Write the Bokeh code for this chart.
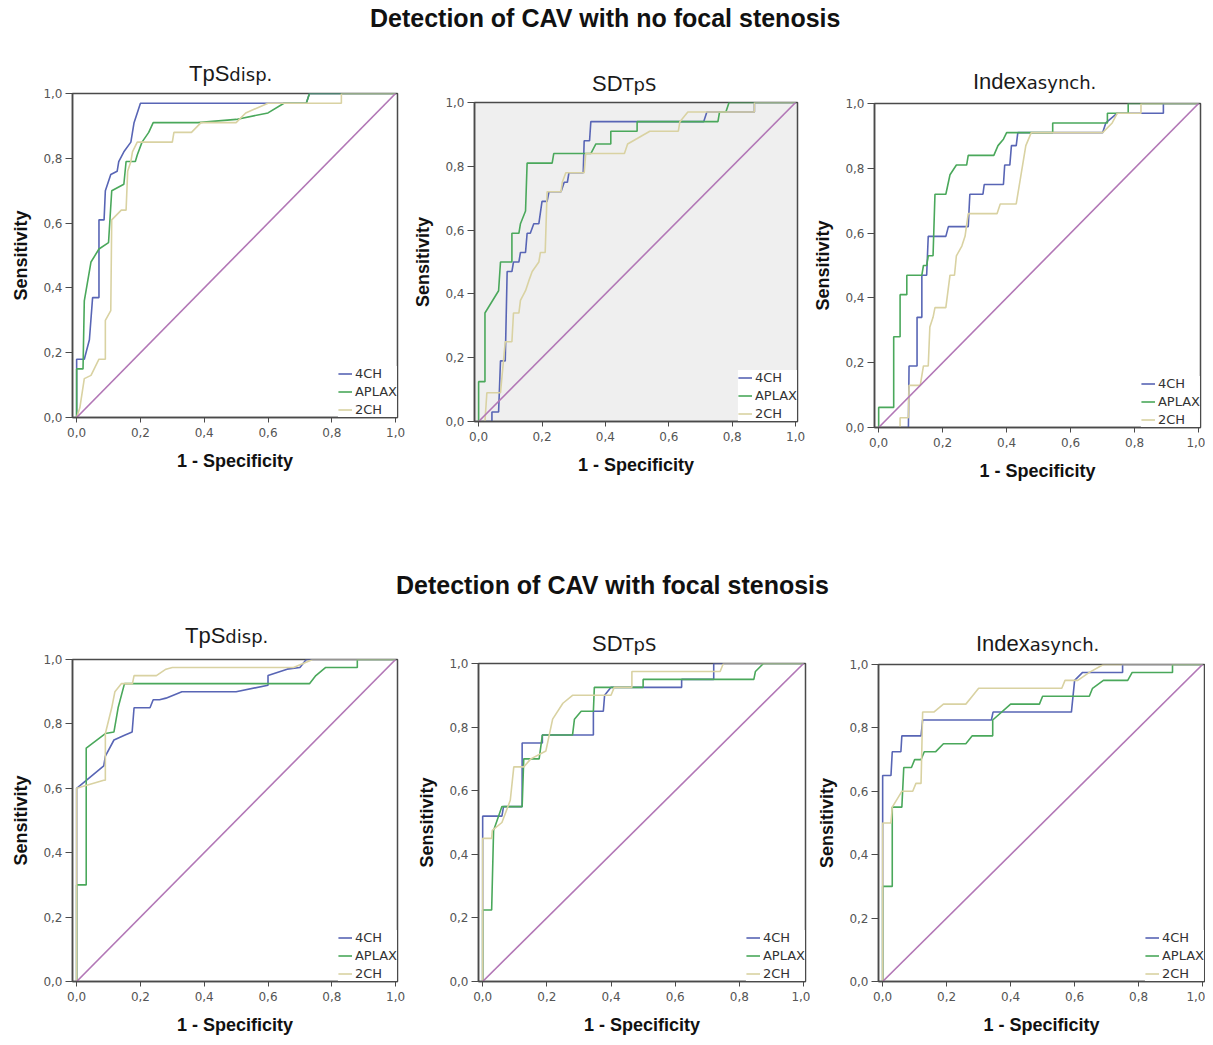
from bokeh.plotting import figure
from bokeh.models import Div, FixedTicker, CustomJSTickFormatter, Range1d
from bokeh.layouts import column, row
from bokeh.embed import file_html
from bokeh.resources import INLINE

# ---------------- data ----------------
HEADINGS = ["Detection of CAV with no focal stenosis", "Detection of CAV with focal stenosis"]
TITLES_MAIN = ["TpS", "SD", "Index", "TpS", "SD", "Index"]
TITLES_SUB = ["disp.", "TpS", "asynch.", "disp.", "TpS", "asynch."]
SERIES = ["4CH", "APLAX", "2CH"]
TICKS = [0.0, 0.2, 0.4, 0.6, 0.8, 1.0]
DIAG_X = [0.0, 1.0]
DIAG_Y = [0.0, 1.0]

# Panel 1: TpS disp., no focal stenosis
P1_4CH_X = [0, 0, 0.024, 0.04, 0.05, 0.07, 0.07, 0.086, 0.09, 0.107, 0.127, 0.132, 0.148, 0.17, 0.175, 0.18, 0.19, 0.20, 0.72, 0.73, 1.0]
P1_4CH_Y = [0, 0.18, 0.18, 0.24, 0.37, 0.37, 0.61, 0.61, 0.70, 0.75, 0.76, 0.79, 0.82, 0.85, 0.88, 0.91, 0.94, 0.97, 0.97, 1.0, 1.0]
P1_APLAX_X = [0, 0, 0.02, 0.024, 0.045, 0.07, 0.10, 0.11, 0.148, 0.155, 0.184, 0.19, 0.205, 0.226, 0.24, 0.38, 0.50, 0.60, 0.65, 0.72, 0.73, 1.0]
P1_APLAX_Y = [0, 0.15, 0.15, 0.36, 0.48, 0.52, 0.54, 0.70, 0.72, 0.79, 0.79, 0.81, 0.85, 0.88, 0.91, 0.91, 0.92, 0.94, 0.97, 0.97, 1.0, 1.0]
P1_2CH_X = [0, 0.01, 0.024, 0.045, 0.055, 0.07, 0.09, 0.09, 0.107, 0.11, 0.14, 0.155, 0.16, 0.17, 0.175, 0.19, 0.30, 0.305, 0.36, 0.39, 0.50, 0.53, 0.60, 0.83, 0.83, 1.0]
P1_2CH_Y = [0, 0.03, 0.12, 0.13, 0.15, 0.18, 0.18, 0.30, 0.33, 0.61, 0.64, 0.64, 0.76, 0.79, 0.82, 0.85, 0.85, 0.88, 0.88, 0.91, 0.91, 0.94, 0.97, 0.97, 1.0, 1.0]

# Panel 2: SD TpS, no focal stenosis
P2_4CH_X = [0, 0.042, 0.042, 0.063, 0.069, 0.084, 0.09, 0.105, 0.11, 0.127, 0.132, 0.148, 0.153, 0.163, 0.174, 0.19, 0.20, 0.216, 0.222, 0.26, 0.27, 0.28, 0.285, 0.33, 0.333, 0.35, 0.354, 0.71, 0.72, 0.87, 0.87, 1.0]
P2_4CH_Y = [0, 0, 0.03, 0.03, 0.19, 0.19, 0.47, 0.47, 0.50, 0.50, 0.53, 0.53, 0.59, 0.59, 0.62, 0.62, 0.69, 0.69, 0.72, 0.72, 0.75, 0.75, 0.78, 0.78, 0.88, 0.88, 0.94, 0.94, 0.97, 0.97, 1.0, 1.0]
P2_APLAX_X = [0, 0, 0.02, 0.02, 0.063, 0.069, 0.105, 0.105, 0.127, 0.132, 0.148, 0.153, 0.232, 0.237, 0.354, 0.37, 0.417, 0.417, 0.50, 0.50, 0.755, 0.76, 0.78, 0.79, 1.0]
P2_APLAX_Y = [0, 0.125, 0.125, 0.34, 0.41, 0.50, 0.50, 0.59, 0.59, 0.62, 0.66, 0.81, 0.81, 0.84, 0.84, 0.87, 0.87, 0.91, 0.91, 0.94, 0.94, 0.97, 0.97, 1.0, 1.0]
P2_2CH_X = [0, 0.02, 0.026, 0.069, 0.084, 0.105, 0.11, 0.127, 0.132, 0.148, 0.158, 0.169, 0.19, 0.195, 0.21, 0.216, 0.26, 0.264, 0.275, 0.333, 0.338, 0.46, 0.47, 0.54, 0.63, 0.635, 0.66, 0.87, 0.87, 1.0]
P2_2CH_Y = [0, 0, 0.09, 0.09, 0.25, 0.25, 0.34, 0.34, 0.38, 0.41, 0.44, 0.47, 0.50, 0.53, 0.53, 0.72, 0.72, 0.75, 0.78, 0.78, 0.84, 0.84, 0.87, 0.91, 0.91, 0.94, 0.97, 0.97, 1.0, 1.0]

# Panel 3: Index asynch., no focal stenosis
P3_4CH_X = [0, 0.093, 0.095, 0.12, 0.12, 0.135, 0.135, 0.15, 0.155, 0.21, 0.218, 0.28, 0.285, 0.326, 0.33, 0.39, 0.394, 0.41, 0.415, 0.43, 0.435, 0.70, 0.71, 0.746, 0.89, 0.89, 1.0]
P3_4CH_Y = [0, 0, 0.19, 0.19, 0.34, 0.34, 0.47, 0.47, 0.59, 0.59, 0.62, 0.62, 0.72, 0.72, 0.75, 0.75, 0.81, 0.81, 0.87, 0.87, 0.91, 0.91, 0.94, 0.97, 0.97, 1.0, 1.0]
P3_APLAX_X = [0, 0, 0.047, 0.047, 0.067, 0.067, 0.088, 0.088, 0.135, 0.14, 0.15, 0.155, 0.17, 0.176, 0.21, 0.223, 0.243, 0.275, 0.28, 0.36, 0.373, 0.39, 0.40, 0.544, 0.544, 0.715, 0.715, 0.78, 0.78, 1.0]
P3_APLAX_Y = [0, 0.062, 0.062, 0.28, 0.28, 0.41, 0.41, 0.47, 0.47, 0.50, 0.50, 0.53, 0.53, 0.72, 0.72, 0.78, 0.81, 0.81, 0.84, 0.84, 0.87, 0.89, 0.91, 0.91, 0.94, 0.94, 0.97, 0.97, 1.0, 1.0]
P3_2CH_X = [0, 0.067, 0.067, 0.093, 0.095, 0.13, 0.135, 0.14, 0.155, 0.16, 0.17, 0.176, 0.21, 0.223, 0.237, 0.243, 0.26, 0.27, 0.28, 0.37, 0.38, 0.43, 0.435, 0.46, 0.477, 0.70, 0.73, 0.746, 0.82, 0.82, 1.0]
P3_2CH_Y = [0, 0, 0.03, 0.03, 0.13, 0.13, 0.16, 0.19, 0.19, 0.31, 0.34, 0.37, 0.37, 0.47, 0.47, 0.53, 0.56, 0.59, 0.66, 0.66, 0.69, 0.69, 0.72, 0.87, 0.91, 0.91, 0.94, 0.97, 0.97, 1.0, 1.0]

# Panel 4: TpS disp., focal stenosis
P4_4CH_X = [0, 0, 0.085, 0.09, 0.117, 0.15, 0.174, 0.18, 0.23, 0.24, 0.26, 0.28, 0.33, 0.50, 0.60, 0.60, 0.66, 0.70, 0.72, 1.0]
P4_4CH_Y = [0, 0.60, 0.67, 0.70, 0.75, 0.765, 0.775, 0.85, 0.85, 0.875, 0.875, 0.88, 0.90, 0.90, 0.92, 0.95, 0.97, 0.975, 1.0, 1.0]
P4_APLAX_X = [0, 0, 0.03, 0.03, 0.09, 0.117, 0.13, 0.15, 0.73, 0.75, 0.78, 0.88, 0.88, 1.0]
P4_APLAX_Y = [0, 0.30, 0.30, 0.725, 0.77, 0.775, 0.85, 0.925, 0.925, 0.95, 0.975, 0.975, 1.0, 1.0]
P4_2CH_X = [0, 0, 0.085, 0.09, 0.09, 0.11, 0.12, 0.14, 0.175, 0.18, 0.25, 0.28, 0.30, 0.68, 0.74, 1.0]
P4_2CH_Y = [0, 0.60, 0.625, 0.625, 0.77, 0.85, 0.90, 0.925, 0.925, 0.95, 0.95, 0.97, 0.975, 0.975, 1.0, 1.0]

# Panel 5: SD TpS, focal stenosis
P5_4CH_X = [0, 0, 0.06, 0.065, 0.123, 0.123, 0.186, 0.186, 0.345, 0.345, 0.376, 0.38, 0.40, 0.62, 0.62, 0.72, 0.72, 1.0]
P5_4CH_Y = [0, 0.52, 0.52, 0.55, 0.55, 0.75, 0.75, 0.775, 0.775, 0.85, 0.85, 0.90, 0.925, 0.925, 0.95, 0.95, 1.0, 1.0]
P5_APLAX_X = [0, 0, 0.028, 0.034, 0.06, 0.123, 0.128, 0.176, 0.186, 0.28, 0.286, 0.307, 0.345, 0.348, 0.50, 0.50, 0.845, 0.85, 0.875, 1.0]
P5_APLAX_Y = [0, 0.225, 0.225, 0.475, 0.55, 0.55, 0.70, 0.70, 0.775, 0.775, 0.825, 0.85, 0.85, 0.925, 0.925, 0.95, 0.95, 0.975, 1.0, 1.0]
P5_2CH_X = [0, 0, 0.028, 0.03, 0.06, 0.086, 0.097, 0.128, 0.15, 0.197, 0.218, 0.25, 0.28, 0.40, 0.41, 0.465, 0.465, 0.74, 0.75, 1.0]
P5_2CH_Y = [0, 0.45, 0.45, 0.475, 0.50, 0.57, 0.675, 0.675, 0.70, 0.725, 0.825, 0.875, 0.90, 0.90, 0.925, 0.925, 0.975, 0.975, 1.0, 1.0]

# Panel 6: Index asynch., focal stenosis
P6_4CH_X = [0, 0, 0.026, 0.03, 0.057, 0.06, 0.12, 0.125, 0.34, 0.345, 0.59, 0.60, 0.625, 0.75, 0.75, 1.0]
P6_4CH_Y = [0, 0.65, 0.65, 0.725, 0.725, 0.775, 0.775, 0.825, 0.825, 0.85, 0.85, 0.95, 0.975, 0.975, 1.0, 1.0]
P6_APLAX_X = [0, 0, 0.03, 0.03, 0.06, 0.066, 0.09, 0.10, 0.12, 0.13, 0.166, 0.19, 0.26, 0.28, 0.344, 0.344, 0.40, 0.49, 0.50, 0.646, 0.656, 0.69, 0.766, 0.78, 0.906, 0.906, 1.0]
P6_APLAX_Y = [0, 0.30, 0.30, 0.55, 0.55, 0.675, 0.675, 0.70, 0.70, 0.725, 0.725, 0.75, 0.75, 0.775, 0.775, 0.825, 0.875, 0.875, 0.90, 0.90, 0.925, 0.95, 0.95, 0.975, 0.975, 1.0, 1.0]
P6_2CH_X = [0, 0, 0.026, 0.03, 0.06, 0.094, 0.104, 0.12, 0.125, 0.16, 0.19, 0.26, 0.28, 0.30, 0.56, 0.57, 0.61, 0.646, 0.69, 1.0]
P6_2CH_Y = [0, 0.50, 0.50, 0.55, 0.60, 0.60, 0.625, 0.625, 0.85, 0.85, 0.875, 0.875, 0.90, 0.925, 0.925, 0.95, 0.95, 0.975, 1.0, 1.0]

PANEL_DATA = [
    [(P1_4CH_X, P1_4CH_Y), (P1_APLAX_X, P1_APLAX_Y), (P1_2CH_X, P1_2CH_Y)],
    [(P2_4CH_X, P2_4CH_Y), (P2_APLAX_X, P2_APLAX_Y), (P2_2CH_X, P2_2CH_Y)],
    [(P3_4CH_X, P3_4CH_Y), (P3_APLAX_X, P3_APLAX_Y), (P3_2CH_X, P3_2CH_Y)],
    [(P4_4CH_X, P4_4CH_Y), (P4_APLAX_X, P4_APLAX_Y), (P4_2CH_X, P4_2CH_Y)],
    [(P5_4CH_X, P5_4CH_Y), (P5_APLAX_X, P5_APLAX_Y), (P5_2CH_X, P5_2CH_Y)],
    [(P6_4CH_X, P6_4CH_Y), (P6_APLAX_X, P6_APLAX_Y), (P6_2CH_X, P6_2CH_Y)],
]

# ---------------- styling / layout ----------------
COLORS = ["#5865b5", "#4aa85b", "#d9d2a2"]
DIAG_COLOR = "#b277b6"
FRAME_COLOR = "#4a4a4a"
XR0, XR1 = -0.013, 1.006

# figure: (width, height, border l, r, t, b, background)
FIG_LAYOUT = [
    (402, 403, 62, 13, 6, 73, "white"),
    (400, 393, 63, 13, 5, 69, "#efefef"),
    (395, 394, 62, 5, 7, 63, "white"),
    (402, 387, 60, 13, 9, 55, "white"),
    (400, 379, 68, 5, 5, 54, "white"),
    (395, 379, 68, 1, 6, 52, "white"),
]
# title strip above each figure: (height, left of main text, baseline y)
TITLE_LAYOUT = [
    (39, 181, 34),
    (49, 182, 44),
    (48, 163, 42),
    (50, 177, 44),
    (58, 182, 52),
    (58, 166, 52),
]

fmt_code = "return tick.toFixed(1).replace('.', ',');"


def make_panel(i):
    w, h, bl, br, bt, bb, bg = FIG_LAYOUT[i]
    p = figure(width=w, height=h, output_backend="svg", toolbar_location=None,
               x_range=Range1d(XR0, XR1), y_range=Range1d(0, 1),
               min_border_left=bl, min_border_right=br, min_border_top=bt, min_border_bottom=bb,
               background_fill_color=bg, border_fill_color="white",
               outline_line_color=FRAME_COLOR, outline_line_width=1.5)
    p.title.visible = False
    p.xgrid.visible = False
    p.ygrid.visible = False
    for r, (xs, ys) in enumerate(PANEL_DATA[i]):
        p.line(xs, ys, line_color=COLORS[r], line_width=1.6, legend_label=SERIES[r])
    p.line(DIAG_X, DIAG_Y, line_color=DIAG_COLOR, line_width=1.6)

    for ax, lab in ((p.xaxis[0], "1 - Specificity"), (p.yaxis[0], "Sensitivity")):
        ax.ticker = FixedTicker(ticks=TICKS)
        ax.formatter = CustomJSTickFormatter(code=fmt_code)
        ax.minor_tick_line_color = None
        ax.major_tick_in = 0
        ax.axis_line_color = FRAME_COLOR
        ax.axis_line_width = 1.5
        ax.major_tick_line_color = FRAME_COLOR
        ax.major_tick_line_width = 1
        ax.major_label_text_font = "DejaVu Sans"
        ax.major_label_text_font_size = "12px"
        ax.major_label_text_color = "#555555"
        ax.axis_label = lab
        ax.axis_label_text_font = "Liberation Sans"
        ax.axis_label_text_font_style = "bold"
        ax.axis_label_text_font_size = "18px"
        ax.axis_label_text_color = "#111111"
    p.xaxis[0].major_tick_out = 5
    p.xaxis[0].major_label_standoff = 5
    p.xaxis[0].axis_label_standoff = 11
    p.yaxis[0].major_tick_out = 7
    p.yaxis[0].major_label_standoff = 3
    p.yaxis[0].axis_label_standoff = 9

    lg = p.legend[0]
    lg.location = "bottom_right"
    lg.margin = 0
    lg.padding = 4
    lg.spacing = 3
    lg.label_height = 15
    lg.glyph_height = 15
    lg.glyph_width = 14
    lg.label_standoff = 3
    lg.label_text_font = "DejaVu Sans"
    lg.label_text_font_size = "13px"
    lg.label_text_color = "#333333"
    lg.border_line_color = None
    lg.background_fill_color = "white"
    lg.background_fill_alpha = 1.0
    return p


def title_strip(i, width):
    h, left, base = TITLE_LAYOUT[i]
    top = base - 22.6  # baseline offset of a 22px Liberation Sans line with 30px line-height
    html = ('<div style="position:relative;width:%dpx;height:%dpx;">'
            '<div style="position:absolute;left:%dpx;top:%.1fpx;white-space:nowrap;line-height:30px;'
            'font-family:\'Liberation Sans\',Arial,sans-serif;font-size:22px;color:#1a1a1a;">'
            '%s<span style="font-family:\'DejaVu Sans\',sans-serif;font-size:18px;">%s</span></div></div>'
            ) % (width, h, left, top, TITLES_MAIN[i], TITLES_SUB[i])
    return Div(text=html, width=width, height=h, margin=(0, 0, 0, 0))


def heading(txt, left, base, height):
    top = base - 23.7  # baseline offset of a 25px bold line with 30px line-height
    html = ('<div style="position:relative;width:1197px;height:%dpx;">'
            '<div style="position:absolute;left:%dpx;top:%.1fpx;white-space:nowrap;line-height:30px;'
            'font-family:\'Liberation Sans\',Arial,sans-serif;font-weight:bold;font-size:25px;color:#111111;">'
            '%s</div></div>') % (height, left, top, txt)
    return Div(text=html, width=1197, height=height, margin=(0, 0, 0, 0))


figs = [make_panel(i) for i in range(6)]
cols = [column(title_strip(i, FIG_LAYOUT[i][0]), figs[i], spacing=0) for i in range(6)]

div1 = heading(HEADINGS[0], 362, 19, 40)
div2 = heading(HEADINGS[1], 388, 104, 110)

layout = column(div1, row(cols[0], cols[1], cols[2], spacing=0), div2,
                row(cols[3], cols[4], cols[5], spacing=0), spacing=0, margin=(8, 0, 0, 8))

open("out.html", "w").write(file_html(layout, INLINE))
